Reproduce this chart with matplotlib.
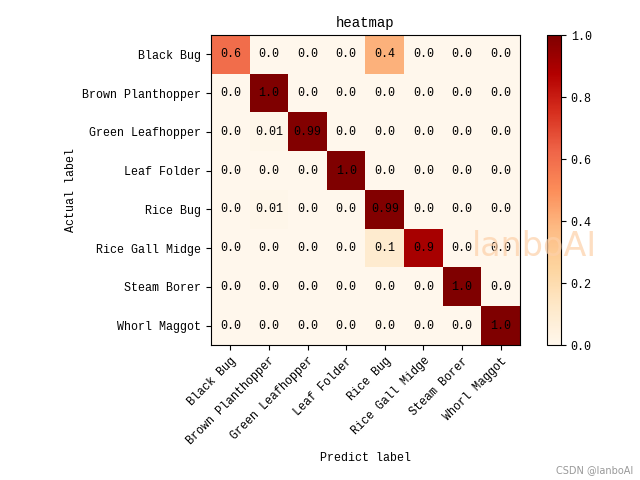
import numpy as np
import matplotlib.pyplot as plt

plt.rcParams['font.family'] = ['Liberation Mono', 'DejaVu Sans Mono']
plt.rcParams['font.size'] = 8.4

# class names
labels = ["Black Bug", "Brown Planthopper", "Green Leafhopper", "Leaf Folder",
          "Rice Bug", "Rice Gall Midge", "Steam Borer", "Whorl Maggot"]

# normalized confusion matrix (rows = actual, cols = predicted)
row_black_bug = [0.6, 0.0, 0.0, 0.0, 0.4, 0.0, 0.0, 0.0]
row_brown = [0.0, 1.0, 0.0, 0.0, 0.0, 0.0, 0.0, 0.0]
row_green = [0.0, 0.01, 0.99, 0.0, 0.0, 0.0, 0.0, 0.0]
row_leaf = [0.0, 0.0, 0.0, 1.0, 0.0, 0.0, 0.0, 0.0]
row_rice_bug = [0.0, 0.01, 0.0, 0.0, 0.99, 0.0, 0.0, 0.0]
row_gall = [0.0, 0.0, 0.0, 0.0, 0.1, 0.9, 0.0, 0.0]
row_steam = [0.0, 0.0, 0.0, 0.0, 0.0, 0.0, 1.0, 0.0]
row_whorl = [0.0, 0.0, 0.0, 0.0, 0.0, 0.0, 0.0, 1.0]

cm = np.array([row_black_bug, row_brown, row_green, row_leaf,
               row_rice_bug, row_gall, row_steam, row_whorl])

fig = plt.figure(figsize=(6.4, 4.8), dpi=100)
ax = fig.add_axes([211 / 640, 135 / 480, 309 / 640, 310 / 480])
cax = fig.add_axes([547 / 640, 135 / 480, 14 / 640, 310 / 480])

im = ax.imshow(cm, cmap='OrRd', vmin=0, vmax=1, aspect='auto')
cbar = fig.colorbar(im, cax=cax)

ax.set_xticks(range(len(labels)))
ax.set_yticks(range(len(labels)))
ax.set_xticklabels(labels, rotation=45, ha='right', rotation_mode='anchor')
ax.set_yticklabels(labels)

for i in range(cm.shape[0]):
    for j in range(cm.shape[1]):
        ax.text(j, i, str(round(cm[i, j], 2)), ha='center', va='center', color='black')

ax.set_title("heatmap")
ax.set_xlabel("Predict label")
ax.set_ylabel("Actual label")
ax.xaxis.set_label_coords(0.5, -0.345)
ax.yaxis.set_label_coords(-0.435, 0.5)

# watermarks
fig.text(0.835, 0.487, "lanboAI", fontsize=24, color='#fdd0a8', alpha=0.7,
         ha='center', va='center', family='DejaVu Sans')
fig.text(0.99, 0.01, "CSDN @lanboAI", fontsize=7, color='#999999',
         ha='right', va='bottom', family='DejaVu Sans')

plt.savefig("out.png", dpi=100)
